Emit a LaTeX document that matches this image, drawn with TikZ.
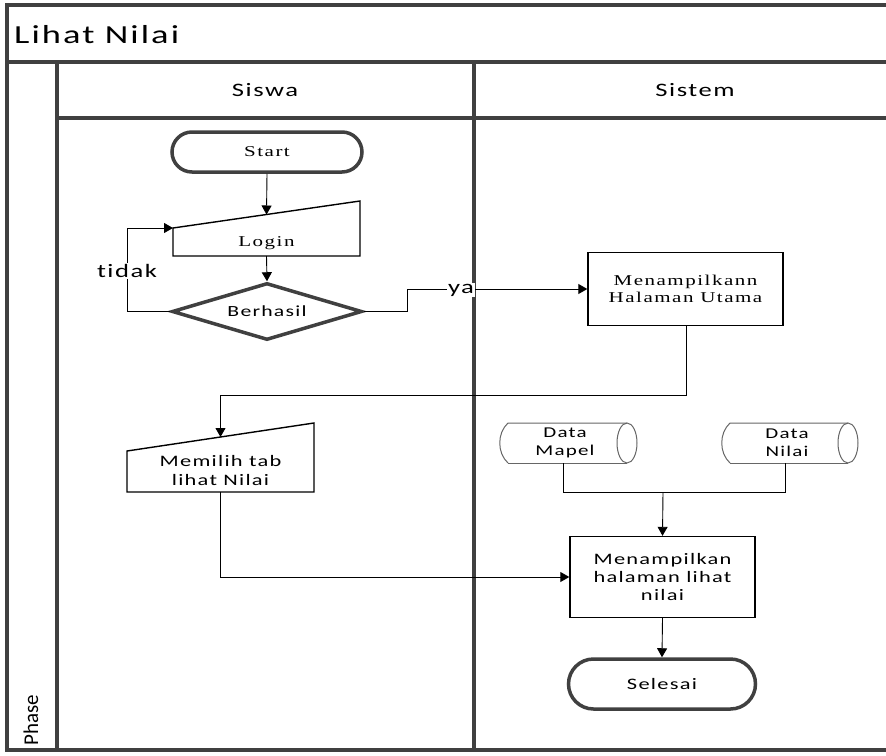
\documentclass[tikz,border=0pt]{standalone}
\usepackage{fontspec}
\setmainfont[FakeStretch=1.4,LetterSpace=10]{Liberation Serif}
\newfontfamily\carl{Carlito}
\newfontfamily\carlw[FakeStretch=1.4,LetterSpace=8,Ligatures=NoCommon]{Carlito}
\usetikzlibrary{arrows.meta,shapes.geometric,calc}
\begin{document}
\begin{tikzpicture}[x=1pt,y=-1pt,
  frame/.style={draw=black!75,line width=3.5pt},
  conn/.style={draw=black,line width=0.9pt},
  arr/.style={conn,-{Triangle[length=9pt,width=10pt]}},
  term/.style={draw=black!75,line width=3.5pt,rounded corners=#1,inner sep=0pt},
  procbox/.style={draw=black,line width=1.4pt,inner sep=0pt,align=center},
  txt/.style={inner sep=0pt,align=center},
  lbl/.style={fill=white,inner sep=1pt,font=\carlw\fontsize{19}{20}\selectfont}]
\useasboundingbox (0,0) rectangle (886,755);
\fill[white] (0,0) rectangle (886,755);
% frame
\draw[frame] (886,5) -- (7,5) -- (7,750) -- (886,750);
\draw[frame] (7,62) -- (886,62);
\draw[frame] (57,62) -- (57,750);
\draw[frame] (57,118) -- (886,118);
\draw[frame] (474,62) -- (474,750);
\node[txt,anchor=west,font=\carlw\fontsize{26}{28}\selectfont] (title) at (14,35) {Lihat Nilai};
\node[txt,font=\carlw\fontsize{19}{20}\selectfont] (siswa) at (265,90) {Siswa};
\node[txt,font=\carlw\fontsize{19}{20}\selectfont] (sistem) at (695,90) {Sistem};
\node[txt,rotate=90,anchor=west,font=\carl\fontsize{21}{22}\selectfont] (phase) at (31,746) {Phase};
% start
\node[term=20pt,minimum width=190pt,minimum height=40pt,font=\fontsize{15}{17}\selectfont] (start) at (267,152) {Start};
% login manual input
\coordinate (lsw) at (173,256); \coordinate (lse) at (360,256);
\coordinate (lne) at (360,201); \coordinate (lnw) at (173,228);
\draw[procbox] (lsw) -- (lse) -- (lne) -- (lnw) -- cycle;
\coordinate (ltop) at ($(lnw)!0.5!(lne)$);
\coordinate (lbot) at ($(lsw)!0.5!(lse)$);
\node[txt,font=\fontsize{15}{18}\selectfont] (login) at (266.5,243) {Login};
% berhasil
\node[diamond,draw=black!75,line width=3.5pt,aspect=3.33,minimum width=190pt,minimum height=57pt,inner sep=0pt,font=\carlw\fontsize{15.5}{18}\selectfont] (berhasil) at (267,311.5) {Berhasil};
\draw[arr] (start.south) -- (ltop);
\draw[arr] (lbot) -- (berhasil.north);
\coordinate (tx) at (127,311.5);
\draw[arr] (berhasil.west) -- (tx) |- (lnw);
\node[lbl] (tidak) at (127,271) {tidak};
% menampilkann halaman utama
\node[procbox,minimum width=195pt,minimum height=73pt,font=\fontsize{15}{17.5}\selectfont] (mhu) at (685.5,289) {Menampilkann\\Halaman Utama};
\coordinate (yx) at (407,311.5);
\draw[arr] (berhasil.east) -- (yx) |- (mhu.west);
\node[lbl] (ya) at (461,290) {ya};
% memilih
\coordinate (msw) at (127,492); \coordinate (mse) at (314,492);
\coordinate (mne) at (314,423); \coordinate (mnw) at (127,451);
\draw[procbox] (msw) -- (mse) -- (mne) -- (mnw) -- cycle;
\coordinate (mtop) at ($(mnw)!0.5!(mne)$);
\coordinate (mbot) at ($(msw)!0.5!(mse)$);
\node[txt,font=\carlw\fontsize{16}{19}\selectfont] (memilih) at (220.5,470) {Memilih tab\\lihat Nilai};
\coordinate (bend1) at (686,395);
\draw[arr] (mhu.south -| bend1) -- (bend1) -| (mtop);
% data stores
\node[txt,minimum width=120pt,minimum height=40pt,font=\carlw\fontsize{15}{18}\selectfont] (dmapel) at (565,443) {Data\\Mapel};
\node[txt,minimum width=120pt,minimum height=40pt,font=\carlw\fontsize{15}{18}\selectfont] (dnilai) at (787,443) {Data\\Nilai};
\draw[black!60,line width=1pt] (508,463) .. controls (497,453) and (497,433) .. (508,423) -- (627,423);
\draw[black!60,line width=1pt] (508,463) -- (627,463);
\draw[black!60,line width=1pt] (627,443) ellipse [x radius=10,y radius=20];
\draw[black!60,line width=1pt] (730,463) .. controls (719,453) and (719,433) .. (730,423) -- (848,423);
\draw[black!60,line width=1pt] (730,463) -- (848,463);
\draw[black!60,line width=1pt] (848,443) ellipse [x radius=10,y radius=20];
% menampilkan halaman lihat nilai
\node[procbox,minimum width=185pt,minimum height=81pt,font=\carlw\fontsize{16}{18}\selectfont] (mhl) at (662.5,577) {Menampilkan\\halaman lihat\\nilai};
\coordinate (jn) at (663,492);
\coordinate (dmb) at (563,463); \coordinate (dnb) at (785,463);
\draw[conn] (dmb) -- (dmb |- jn) -- (jn -| dnb) -- (dnb);
\draw[arr] (jn) -- (mhl.north);
\draw[arr] (mbot) -- (220.5,577) -- (mhl.west);
% selesai
\node[term=25pt,minimum width=187pt,minimum height=50pt,font=\carlw\fontsize{16}{18}\selectfont] (selesai) at (662,684) {Selesai};
\draw[arr] (mhl.south) -- (selesai.north);
\end{tikzpicture}
\end{document}
